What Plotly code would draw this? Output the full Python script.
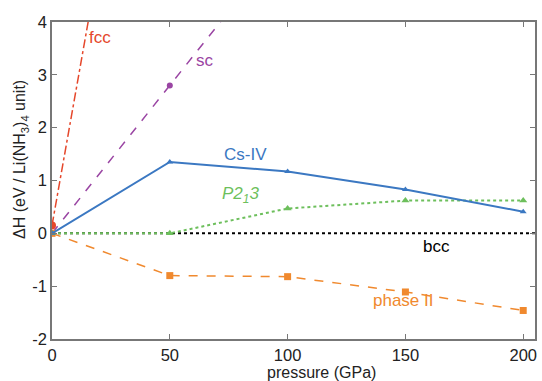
import plotly.graph_objects as go

pressure = [0, 50, 100, 150, 200]
fcc_x = [0, 50]
fcc_y = [0.15, 12.7]
sc_x = [0, 50, 100]
sc_y = [0.0, 2.8, 5.6]
csiv_y = [0.0, 1.35, 1.17, 0.83, 0.41]
p213_y = [0.0, 0.0, 0.47, 0.62, 0.62]
phase2_y = [0.0, -0.80, -0.82, -1.11, -1.46]
bcc_x = [0, 205]
bcc_y = [0, 0]
x_ticks = [0, 50, 100, 150, 200]
y_ticks = [-2, -1, 0, 1, 2, 3, 4]
y_ticktext = ["-2", "-1", "0", "1", "2", "3", "4"]

RED = "#e5472b"
PURPLE = "#9a45a3"
BLUE = "#3b78c2"
GREEN = "#6dbf5c"
ORANGE = "#f0892e"

fig = go.Figure()
fig.add_trace(go.Scatter(x=bcc_x, y=bcc_y, mode="lines",
                         line=dict(color="black", width=2, dash="dot")))
fig.add_trace(go.Scatter(x=fcc_x, y=fcc_y, mode="lines",
                         line=dict(color=RED, width=1.5, dash="dashdot")))
fig.add_trace(go.Scatter(x=[fcc_x[0]], y=[fcc_y[0]], mode="markers",
                         marker=dict(color=RED, size=8, symbol="circle")))
fig.add_trace(go.Scatter(x=sc_x, y=sc_y, mode="lines+markers",
                         line=dict(color=PURPLE, width=1.5, dash="dash"),
                         marker=dict(color=PURPLE, size=6, symbol="circle")))
fig.add_trace(go.Scatter(x=pressure, y=phase2_y, mode="lines+markers",
                         line=dict(color=ORANGE, width=1.5, dash="dash"),
                         marker=dict(color=ORANGE, size=7, symbol="square")))
fig.add_trace(go.Scatter(x=pressure, y=p213_y, mode="lines+markers",
                         line=dict(color=GREEN, width=2, dash="dot"),
                         marker=dict(color=GREEN, size=7, symbol="triangle-up")))
fig.add_trace(go.Scatter(x=pressure, y=csiv_y, mode="lines+markers",
                         line=dict(color=BLUE, width=2),
                         marker=dict(color=BLUE, size=6, symbol="triangle-up")))

font = "Liberation Sans, Arial, sans-serif"
labels = [
    (20.5, 3.7, "fcc", RED),
    (65, 3.28, "sc", PURPLE),
    (82, 1.5, "Cs-IV", BLUE),
    (80, 0.72, "<i>P2<sub>1</sub>3</i>", GREEN),
    (163, -0.25, "bcc", "black"),
    (149, -1.27, "phase II", ORANGE),
]
for x, y, t, c in labels:
    fig.add_annotation(x=x, y=y, text=t, showarrow=False,
                       font=dict(color=c, size=17, family=font))

fig.add_annotation(xref="paper", yref="paper", x=-0.064, y=0.565,
                   text="ΔH (eV / Li(NH<sub>3</sub>)<sub>4</sub> unit)", textangle=-90,
                   showarrow=False, xanchor="center", yanchor="middle",
                   font=dict(size=16, family=font, color="#222222"))
fig.add_annotation(xref="paper", yref="paper", x=0.559, y=-0.107,
                   text="pressure (GPa)", showarrow=False,
                   xanchor="center", yanchor="middle", borderpad=0,
                   font=dict(size=16, family=font, color="#222222"))

axis_common = dict(showgrid=False, zeroline=False, showline=True, linecolor="#777777",
                   linewidth=1.5, mirror="ticks", ticks="inside", ticklen=5,
                   tickcolor="#777777", tickfont=dict(size=16.5, color="#222222", family=font))
fig.update_xaxes(range=[0, 205], tickvals=x_ticks, ticklabelstandoff=0, **axis_common)
fig.update_yaxes(range=[-2, 4], tickvals=y_ticks, ticktext=y_ticktext, **axis_common)
fig.update_layout(width=542, height=381, margin=dict(l=52, r=5, t=22, b=42),
                  paper_bgcolor="white", plot_bgcolor="white", showlegend=False)
fig.write_html("out.html")
